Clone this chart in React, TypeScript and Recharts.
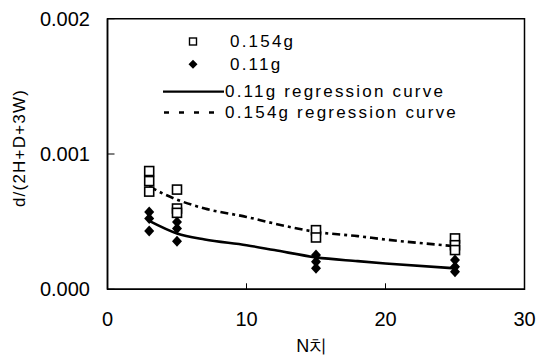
import React from 'react'
import {
  ComposedChart, Scatter, Line, XAxis, YAxis, ReferenceArea, Legend, Label,
} from 'recharts'

// measured points, N value vs d/(2H+D+3W)
const SQUARES_0154 = [
  { x: 3, y: 0.000874 }, { x: 3, y: 0.0008 }, { x: 3, y: 0.000722 },
  { x: 5, y: 0.000737 }, { x: 5, y: 0.000597 }, { x: 5, y: 0.000565 },
  { x: 15, y: 0.000437 }, { x: 15, y: 0.000383 },
  { x: 25, y: 0.000376 }, { x: 25, y: 0.000326 }, { x: 25, y: 0.00029 },
]
const DIAMONDS_011 = [
  { x: 3, y: 0.000572 }, { x: 3, y: 0.000523 }, { x: 3, y: 0.00043 },
  { x: 5, y: 0.000498 }, { x: 5, y: 0.000449 }, { x: 5, y: 0.000356 },
  { x: 15, y: 0.000253 }, { x: 15, y: 0.000203 }, { x: 15, y: 0.000155 },
  { x: 25, y: 0.000216 }, { x: 25, y: 0.000167 }, { x: 25, y: 0.00013 },
]
// regression curves
const CURVE_011 = [
  { x: 3, y: 0.000506 }, { x: 5, y: 0.000413 }, { x: 7, y: 0.000368 },
  { x: 10, y: 0.000326 }, { x: 12, y: 0.00029 }, { x: 15, y: 0.000236 },
  { x: 18, y: 0.000208 }, { x: 20, y: 0.000191 }, { x: 25, y: 0.000155 },
]
const CURVE_0154 = [
  { x: 3, y: 0.000761 }, { x: 4, y: 0.000707 }, { x: 5, y: 0.000663 },
  { x: 7, y: 0.000597 }, { x: 10, y: 0.000535 }, { x: 12, y: 0.000486 },
  { x: 15, y: 0.000424 }, { x: 18, y: 0.000393 }, { x: 20, y: 0.000368 },
  { x: 25, y: 0.000319 },
]
const X_TICKS = [0, 10, 20, 30]
const Y_TICKS = [0, 0.001, 0.002]
const LEGEND_LABELS = ['0.154g', '0.11g', '0.11g  regression curve', '0.154g regression curve']

const FONT = '"Liberation Sans", Arial, sans-serif'
const DASH = '8 4 3 4'

function Square(p: any) {
  return <rect x={p.cx - 4.5} y={p.cy - 4.5} width={9} height={9} fill="#fff" stroke="#000" strokeWidth={1.6} />
}

function Diamond(p: any) {
  const { cx, cy } = p
  return <path d={`M${cx},${cy - 5.5}L${cx + 5},${cy}L${cx},${cy + 5.5}L${cx - 5},${cy}Z`} fill="#000" />
}

function LegendBox() {
  const txt = { fontFamily: FONT, fontSize: 17, letterSpacing: 2.2, fill: '#000' } as const
  return (
    <svg width={538} height={130} style={{ display: 'block' }}>
      <rect x={189.5} y={38} width={7} height={7} fill="#fff" stroke="#000" strokeWidth={1.4} />
      <text x={230} y={41.7} dominantBaseline="central" style={txt}>{LEGEND_LABELS[0]}</text>
      <path d="M193,59.8L197.5,64.3L193,68.8L188.5,64.3Z" fill="#000" />
      <text x={230} y={64.3} dominantBaseline="central" style={txt}>{LEGEND_LABELS[1]}</text>
      <line x1={163} x2={224} y1={91.7} y2={91.7} stroke="#000" strokeWidth={2.2} />
      <text x={225} y={91.7} dominantBaseline="central" style={txt}>{LEGEND_LABELS[2]}</text>
      <line x1={164} x2={224} y1={112.5} y2={112.5} stroke="#000" strokeWidth={2.6} strokeDasharray="5 10" />
      <text x={225} y={112.5} dominantBaseline="central" style={txt}>{LEGEND_LABELS[3]}</text>
    </svg>
  )
}

export default function App() {
  const tick = { fill: '#000', fontSize: 20, fontFamily: FONT }
  return (
    <div style={{ position: 'absolute', left: 0, top: 0, width: 538, height: 361, background: '#fff' }}>
      <ComposedChart width={538} height={361} margin={{ top: 18.7, right: 13.5, bottom: 0, left: 0 }}>
        <XAxis
          type="number" dataKey="x" domain={[0, 30]} ticks={X_TICKS} height={71.7}
          tick={tick} tickSize={-6} tickMargin={28.4} axisLine={{ stroke: '#000', strokeWidth: 1.5 }}
          tickLine={{ stroke: '#000' }} allowDuplicatedCategory={false}
        >
          <Label content={() => (
            <text x={311.7} y={346} textAnchor="middle" dominantBaseline="central"
              style={{ fontFamily: FONT, fontSize: 18, fill: '#000' }}>N치</text>
          )} />
        </XAxis>
        <YAxis
          type="number" domain={[0, 0.002]} ticks={Y_TICKS} width={107.5}
          tick={tick} tickSize={-7} tickMargin={24.5} tickFormatter={v => Number(v).toFixed(3)}
          axisLine={{ stroke: '#000', strokeWidth: 1.5 }} tickLine={{ stroke: '#000' }}
        >
          <Label content={() => (
            <text x={19} y={148} transform="rotate(-90 19 148)" textAnchor="middle" dominantBaseline="central"
              style={{ fontFamily: FONT, fontSize: 17, letterSpacing: 1.2, fill: '#000' }}>d/(2H+D+3W)</text>
          )} />
        </YAxis>
        <ReferenceArea x1={0} x2={30} y1={0} y2={0.002} fill="none" stroke="#000" strokeWidth={1.5} fillOpacity={0} />
        <Line data={CURVE_0154} dataKey="y" type="monotone" stroke="#000" strokeWidth={2.6}
          strokeDasharray={DASH} dot={false} activeDot={false} isAnimationActive={false} />
        <Line data={CURVE_011} dataKey="y" type="monotone" stroke="#000" strokeWidth={2.6}
          dot={false} activeDot={false} isAnimationActive={false} />
        <Scatter data={SQUARES_0154} dataKey="y" shape={Square} isAnimationActive={false} />
        <Scatter data={DIAMONDS_011} dataKey="y" shape={Diamond} isAnimationActive={false} />
        <Legend layout="vertical" align="center" verticalAlign="middle" content={() => <LegendBox />}
          wrapperStyle={{ left: 0, top: 0, width: 538, height: 130 }} />
      </ComposedChart>
    </div>
  )
}
